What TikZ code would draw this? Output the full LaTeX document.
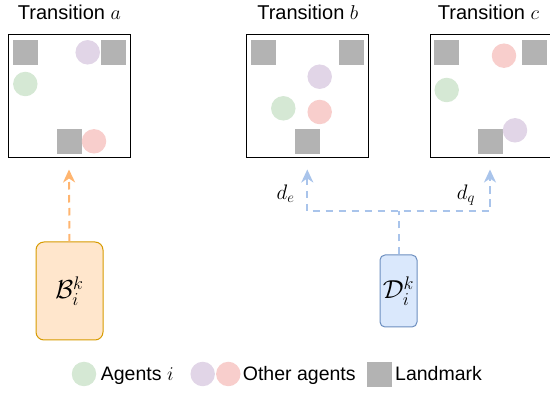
\RequirePackage{fix-cm}
\documentclass[tikz,border=0pt]{standalone}
\usepackage{fontspec}
\setmainfont{Liberation Sans}
\usetikzlibrary{arrows.meta}
\definecolor{agentg}{HTML}{D5E8D4}
\definecolor{agentp}{HTML}{E1D5E7}
\definecolor{agentr}{HTML}{F8CECC}
\definecolor{lmgray}{HTML}{B3B3B3}
\definecolor{orfill}{HTML}{FFE6CC}
\definecolor{ordraw}{HTML}{D79B00}
\definecolor{orarrow}{HTML}{FFB570}
\definecolor{blfill}{HTML}{DAE8FC}
\definecolor{bldraw}{HTML}{6C8EBF}
\definecolor{blarrow}{HTML}{A9C4EB}
\tikzset{
  frame/.style={draw=black, line width=1pt, minimum width=122.5pt, minimum height=123pt, inner sep=0pt},
  agent/.style={circle, inner sep=0pt, minimum size=24.5pt},
  lmark/.style={fill=lmgray, inner sep=0pt, minimum size=24.5pt},
  title/.style={anchor=base, inner sep=0pt, font=\fontsize{20}{24}\selectfont},
  legtext/.style={anchor=base west, inner sep=0pt, font=\fontsize{19.5}{23}\selectfont},
  lab/.style={font=\fontsize{21}{25}\selectfont, inner sep=0pt},
  bigmath/.style={font=\fontsize{26}{30}\selectfont},
  dashline/.style={line width=2pt, dash pattern=on 7.5pt off 5.5pt},
  tip/.tip={Stealth[length=13pt,width=12pt,inset=4pt]},
}
\begin{document}
\begin{tikzpicture}[x=1pt,y=-1pt]
\useasboundingbox (0,0) rectangle (550,393);
% titles
\node[title] (ta) at (69.4,19.3) {Transition $a$};
\node[title] (tb) at (307.8,19.3) {Transition $b$};
\node[title] (tc) at (488.5,19.3) {Transition $c$};
% frames
\node[frame] (fa) at (69.5,95.8) {};
\node[frame] (fb) at (307.7,95.8) {};
\node[frame] (fc) at (491.5,95.8) {};
% frame a contents
\node[lmark] (a1) at (25.5,52.5) {};
\node[lmark] (a2) at (113.5,52.5) {};
\node[lmark] (a3) at (69.5,141.5) {};
\node[agent, fill=agentp] (ap) at (87.7,52.3) {};
\node[agent, fill=agentg] (ag) at (25.3,84) {};
\node[agent, fill=agentr] (ar) at (94,141.3) {};
% frame b contents
\node[lmark] (b1) at (263.5,52.5) {};
\node[lmark] (b2) at (351.7,52.5) {};
\node[lmark] (b3) at (307.5,141.5) {};
\node[agent, fill=agentp] (bp) at (319.7,76.7) {};
\node[agent, fill=agentg] (bg) at (283.3,108.3) {};
\node[agent, fill=agentr] (br) at (319.7,112) {};
% frame c contents
\node[lmark] (c1) at (446.5,52.5) {};
\node[lmark] (c2) at (534.5,52.5) {};
\node[lmark] (c3) at (490.5,141.5) {};
\node[agent, fill=agentr] (cr) at (504,55.7) {};
\node[agent, fill=agentg] (cg) at (446.7,90) {};
\node[agent, fill=agentp] (cp) at (515,130.3) {};
% modules
\node[draw=ordraw, fill=orfill, line width=1pt, rounded corners=8pt, minimum width=67pt, minimum height=98pt, inner sep=0pt, bigmath] (B) at (69.5,291) {$\mathcal{B}_i^k$};
\node[draw=bldraw, fill=blfill, line width=1pt, rounded corners=5pt, minimum width=37pt, minimum height=72pt, inner sep=0pt, bigmath] (D) at (398.5,291) {$\mathcal{D}_i^k$};
% connectors
\coordinate (tipa) at (69,169.5);
\coordinate (tipb) at (307.3,169.5);
\coordinate (tipc) at (490,169.5);
\coordinate (hy) at (0,211.5);
\draw[dashline, draw=orarrow, -tip] (B.north) -- (tipa);
\draw[dashline, draw=blarrow] (D.north) -- (D.north |- hy);
\draw[dashline, draw=blarrow, tip-tip] (tipb) -- (tipb |- hy) -- (tipc |- hy) -- (tipc);
\node[lab] (de) at (285.5,194) {$d_e$};
\node[lab] (dq) at (466,195) {$d_q$};
% legend
\node[agent, fill=agentg] (lg) at (84,374) {};
\node[legtext] (lgt) at (100.7,381) {Agents $i$};
\node[agent, fill=agentp] (lp) at (202.7,374) {};
\node[agent, fill=agentr] (lr) at (228.3,374) {};
\node[legtext] (lrt) at (242.7,381) {Other agents};
\node[lmark] (ll) at (379.5,374.3) {};
\node[legtext] (llt) at (395,381) {Landmark};
\end{tikzpicture}
\end{document}
